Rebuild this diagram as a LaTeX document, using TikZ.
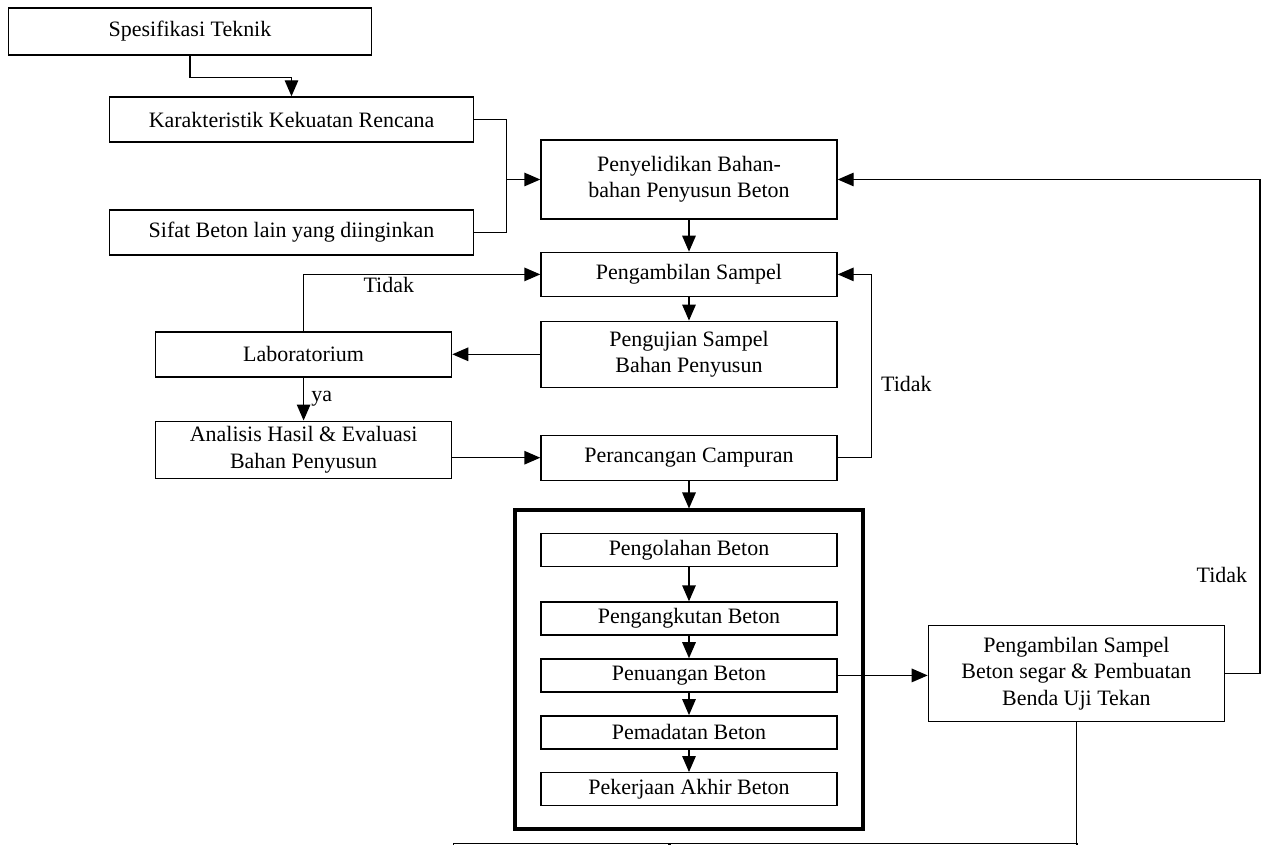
\documentclass[tikz,border=0pt]{standalone}
\usepackage{fontspec}
\setmainfont{Liberation Serif}
\usetikzlibrary{arrows.meta,positioning,fit}

\begin{document}
\begin{tikzpicture}[node distance=0.45cm,>={Triangle[length=0.32cm,width=0.27cm]},line width=0.8pt,
	every node/.style={font=\fontsize{12.5}{15}\selectfont},
	kotak/.style={draw,align=center,minimum width=5.92cm,minimum height=0.9cm,inner sep=2pt},
	kotaklebar/.style={kotak,minimum width=7.27cm},
	tahap/.style={kotak,minimum height=0.66cm},
	ket/.style={inner sep=1pt}]

	\fill[white] (0,0) rectangle (25.22,-16.9);
	\useasboundingbox (0,0) rectangle (25.22,-16.9);
	\clip (0,0) rectangle (25.22,-16.9);

	\node[kotaklebar,minimum height=0.94cm] (spek) at (3.8,-0.63) {Spesifikasi Teknik};
	\node[kotaklebar] (karakter) at (5.83,-2.39) {Karakteristik Kekuatan Rencana};
	\node[kotaklebar] (sifat) [below=1.33cm of karakter] {Sifat Beton lain yang diinginkan};
	\node[kotak,minimum height=1.58cm] (selidik) at (13.78,-3.59) {Penyelidikan Bahan-\\bahan Penyusun Beton};
	\node[kotak,minimum height=0.88cm] (ambil) [below=0.64cm of selidik] {Pengambilan Sampel};
	\node[kotak,minimum height=1.32cm] (uji) [below=0.47cm of ambil] {Pengujian Sampel\\Bahan Penyusun};
	\node[kotak] (rancang) [below=0.93cm of uji] {Perancangan Campuran};
	\node[kotak] (lab) [left=1.76cm of uji] {Laboratorium};
	\node[kotak,minimum height=1.14cm] (analisis) [below=0.86cm of lab] {Analisis Hasil \& Evaluasi\\Bahan Penyusun};

	% tahap pelaksanaan
	\node[tahap] (olah) [below=1.04cm of rancang] {Pengolahan Beton};
	\node[tahap] (angkut) [below=0.68cm of olah] {Pengangkutan Beton};
	\node[tahap] (tuang) [below=of angkut] {Penuangan Beton};
	\node[tahap] (padat) [below=of tuang] {Pemadatan Beton};
	\node[tahap] (akhir) [below=of padat] {Pekerjaan Akhir Beton};
	\node[draw,line width=2.2pt,fit=(olah)(akhir),inner xsep=0.5cm,inner ysep=0.45cm] (kerangka) {};

	\node[kotak,minimum height=1.92cm] (sampel) [right=1.8cm of tuang,yshift=0.04cm] {Pengambilan Sampel\\Beton segar \& Pembuatan\\Benda Uji Tekan};

	% kotak bawah (terpotong)
	\node[draw,minimum width=4.3cm,minimum height=1cm,anchor=north west] (bawahkiri) at (9.06,-16.86) {};
	\node[draw,minimum width=8.14cm,minimum height=1cm,anchor=north west] (bawahkanan) at (bawahkiri.north east) {};

	\coordinate[left=0.68cm of selidik.west] (gabung);

	\draw[->] (spek.south) -- ++(0,-0.44) -| (karakter.north);
	\draw (karakter.east) -| (gabung) |- (sifat.east);
	\draw[->] (gabung) -- (selidik.west);
	\draw[->] (selidik) -- (ambil);
	\draw[->] (ambil) -- (uji);
	\draw[->] (uji.west) -- (lab.east);
	\draw[->] (lab.north) |- node[ket,pos=0.68,below] {Tidak} (ambil.west);
	\draw[->] (lab) -- node[ket,right=3pt,pos=0.5] {ya} (analisis);
	\draw[->] (analisis.east |- rancang) -- (rancang.west);
	\draw[->] (rancang.east) -- ++(0.68,0) |- node[ket,pos=0.2,right=4pt] {Tidak} (ambil.east);
	\draw[->] (rancang) -- (kerangka);
	\draw[->] (olah) -- (angkut);
	\draw[->] (angkut) -- (tuang);
	\draw[->] (tuang) -- (padat);
	\draw[->] (padat) -- (akhir);
	\draw[->] (tuang.east) -- (tuang.east -| sampel.west);
	\draw[->] (sampel.east) -- ++(0.7,0) |- node[ket,pos=0.1,left=6pt] {Tidak} (selidik.east);
	\draw (sampel.south) -- (sampel.south |- bawahkanan.north);

\end{tikzpicture}
\end{document}
